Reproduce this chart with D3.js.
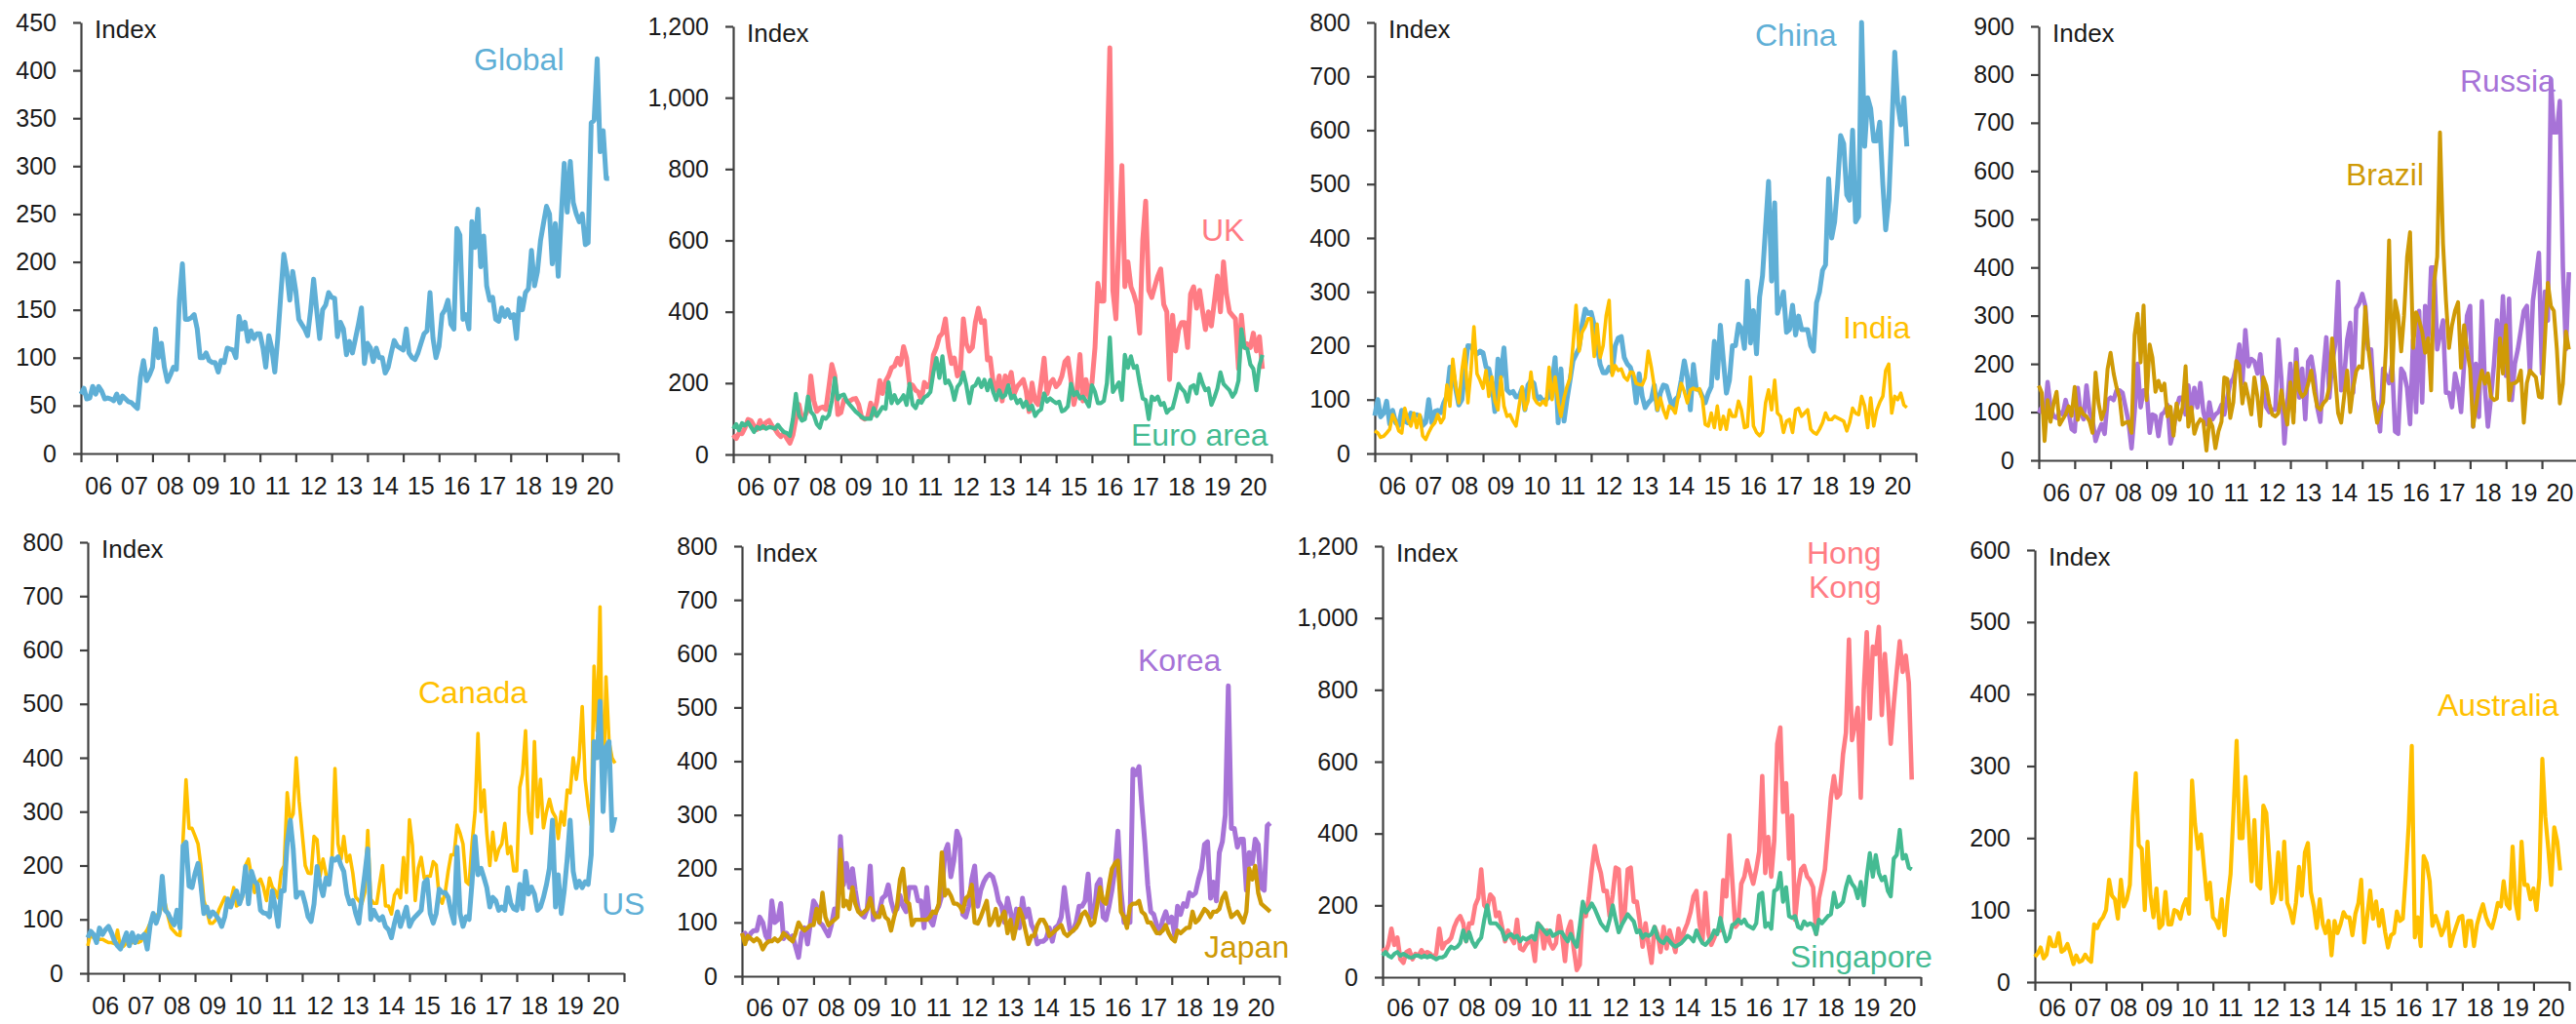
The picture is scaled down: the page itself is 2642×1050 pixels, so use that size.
<!DOCTYPE html>
<html>
<head>
<meta charset="utf-8">
<script src="https://cdn.jsdelivr.net/npm/d3@7"></script>
<style>
  body { margin: 0; background: #ffffff; }
</style>
</head>
<body>
<script>
// Monthly index values, Jan 2006 - Oct 2020 (178 points each)
const yearLabels = ["06","07","08","09","10","11","12","13","14","15","16","17","18","19","20"];

const global = [
  62,68,57,58,70,62,70,65,57,58,57,55,
  62,53,60,57,54,53,50,47,80,97,76,82,
  90,130,100,115,90,75,82,90,88,160,198,140,
  140,142,145,130,100,100,105,97,95,95,85,97,
  95,110,109,108,100,143,130,137,117,128,120,125,
  125,110,90,123,110,85,120,165,208,190,160,190,
  170,140,135,130,123,150,182,150,120,150,155,168,
  163,162,122,137,130,103,117,105,120,135,152,94,
  115,110,96,110,100,100,84,90,105,118,112,110,
  108,130,105,100,98,105,115,125,128,168,120,100,
  112,145,150,160,135,130,235,228,140,145,130,242,
  215,255,195,227,175,160,163,140,138,152,143,150,
  142,145,120,162,150,168,172,212,175,190,222,240,
  258,250,198,240,185,248,303,252,305,262,250,242,
  250,218,220,345,348,412,315,337,287,287
];

const uk = [
  55,45,60,58,75,98,95,80,70,95,75,90,
  95,80,72,58,50,60,45,32,55,100,140,100,
  108,126,220,150,121,130,133,126,189,252,220,112,
  117,153,150,150,155,157,140,104,99,105,144,112,
  148,207,171,205,220,243,248,270,252,302,270,198,
  194,180,175,153,202,190,200,279,300,330,340,380,
  300,255,270,220,230,380,310,290,300,370,410,370,
  375,265,270,200,180,220,150,220,200,230,170,190,
  200,210,180,120,200,150,140,200,270,170,200,210,
  190,200,220,260,270,210,140,180,280,150,210,160,
  200,300,480,430,430,800,1140,460,380,600,810,470,
  540,470,450,420,340,600,710,460,440,470,500,520,
  420,400,210,390,290,350,370,370,300,450,470,410,
  460,400,350,400,360,430,500,400,540,450,400,390,
  380,240,390,300,310,300,340,290,330,240
];

const euroArea = [
  72,85,68,88,81,90,77,63,77,72,79,72,
  77,75,72,83,72,63,60,52,100,170,110,95,
  99,162,120,110,85,75,105,100,110,150,214,155,
  165,168,150,140,130,120,113,105,100,100,100,130,
  108,121,133,128,202,144,166,144,153,166,139,198,
  140,130,150,145,160,165,175,230,270,215,275,200,
  207,189,153,189,200,230,194,144,189,194,212,189,
  209,180,209,175,153,180,160,166,194,157,165,144,
  153,133,148,126,137,108,120,126,171,148,157,150,
  144,148,121,125,135,198,166,175,157,162,150,135,
  194,175,144,144,150,200,328,175,189,202,153,279,
  243,275,243,248,200,157,153,99,162,153,162,139,
  144,117,126,130,162,198,185,175,148,189,194,171,
  225,198,180,185,139,160,185,230,198,189,180,162,
  175,207,351,300,295,252,240,180,250,279
];

const china = [
  70,100,68,75,97,55,80,57,52,80,60,57,
  75,70,72,69,52,58,100,57,78,80,76,94,
  106,160,154,118,90,100,154,200,199,190,185,190,
  187,160,157,130,78,175,142,196,118,112,115,105,
  106,121,81,127,135,130,100,105,97,100,105,130,
  178,57,157,60,100,136,172,184,196,238,268,260,
  262,238,200,165,150,150,160,150,200,214,217,178,
  166,160,142,94,148,106,85,94,100,127,81,112,
  127,125,106,85,100,106,136,172,142,81,165,120,
  118,105,94,112,124,208,140,238,172,112,136,200,
  200,240,232,195,320,205,265,185,290,330,420,505,
  320,465,260,280,300,225,230,275,220,255,230,230,
  230,200,190,280,300,340,350,510,400,430,500,590,
  575,480,470,600,430,440,800,570,660,640,580,580,
  615,500,415,470,600,745,650,610,660,570
];

const india = [
  42,38,30,32,38,45,72,60,42,38,84,63,
  51,75,48,72,33,26,39,50,57,72,57,66,
  127,88,175,124,94,154,193,94,154,235,148,136,
  121,154,106,142,97,81,142,88,69,72,60,51,
  88,124,81,97,151,103,94,90,97,90,160,100,
  142,94,69,103,124,140,200,275,190,225,235,250,
  250,180,240,178,200,256,284,145,163,154,157,142,
  136,151,150,130,128,127,140,190,160,124,81,103,
  81,66,88,84,75,106,130,115,94,118,121,118,
  120,100,54,51,75,48,88,45,69,45,81,69,
  69,97,81,48,50,142,51,39,33,40,94,118,
  81,136,75,69,39,60,63,39,81,84,69,75,
  81,45,39,36,45,57,75,63,63,69,66,63,
  60,42,57,84,75,72,106,88,48,103,51,80,
  95,106,154,166,75,106,100,112,90,85
];

const russia = [
  98,110,90,162,110,91,88,100,95,125,100,65,
  60,150,100,85,155,100,85,40,60,75,55,125,
  130,125,145,145,140,110,80,25,100,200,110,145,
  145,57,95,92,50,95,100,115,35,60,110,130,
  130,95,155,100,150,110,160,100,75,120,85,95,
  100,115,95,130,160,170,195,240,160,270,195,210,
  205,180,220,145,110,100,105,105,250,170,35,120,
  200,100,230,130,190,85,205,215,175,110,80,180,
  255,130,200,240,370,145,170,250,285,140,315,325,
  345,320,230,230,125,110,60,190,175,160,200,60,
  55,190,180,150,75,250,100,310,120,320,250,400,
  400,230,260,290,140,140,110,180,150,100,200,300,
  320,70,200,90,330,150,70,130,200,290,210,340,
  175,335,125,200,230,270,310,320,180,330,380,430,
  180,350,290,790,680,680,745,400,230,390
];

const brazil = [
  155,140,40,125,80,118,142,74,85,95,112,92,
  152,84,108,95,91,81,57,182,118,85,105,189,
  223,180,152,130,74,78,80,57,260,304,203,321,
  125,240,213,142,165,145,159,91,111,51,118,84,
  110,195,70,110,55,75,85,80,20,85,70,25,
  60,80,172,169,88,120,206,196,118,159,130,95,
  172,132,71,172,155,118,95,91,98,145,105,74,
  162,78,203,145,132,139,159,186,142,111,105,118,
  125,152,253,172,98,78,132,186,100,150,185,195,
  192,318,236,186,118,78,100,120,240,456,165,331,
  300,226,300,422,473,233,307,290,267,223,253,145,
  370,422,680,450,331,233,280,310,328,192,280,230,
  190,70,110,155,186,159,180,132,125,128,253,180,
  280,125,159,160,165,186,78,160,186,179,172,132,
  130,253,368,320,310,230,118,159,267,230
];

const canada = [
  51,75,66,63,63,63,60,57,57,55,80,48,
  50,57,54,57,63,57,60,72,81,93,100,108,
  110,125,130,105,84,78,72,70,249,359,269,269,
  255,240,200,135,117,93,93,99,117,129,141,130,
  135,159,125,129,141,200,212,180,150,168,175,160,
  135,177,160,153,140,189,200,335,284,296,400,320,
  260,200,186,185,254,248,180,212,183,165,215,380,
  240,212,254,207,219,186,141,135,129,150,265,138,
  130,130,165,200,125,125,110,145,155,140,215,150,
  285,237,135,195,215,177,180,180,207,201,141,130,
  150,190,220,220,275,260,240,170,165,240,300,445,
  300,340,260,200,262,210,230,240,278,222,235,190,
  190,345,370,450,300,260,430,290,360,270,300,323,
  300,290,250,300,275,340,335,400,360,400,495,360,
  310,275,570,450,680,300,550,430,400,390
];

const us = [
  66,78,72,57,84,72,81,87,75,60,51,45,
  60,75,51,75,57,69,66,72,45,90,111,93,
  111,180,117,111,99,90,117,84,237,243,162,159,
  185,204,165,111,123,105,114,108,100,87,105,138,
  123,141,153,129,147,198,129,189,171,165,117,112,
  111,105,153,123,87,153,153,243,284,231,141,150,
  150,129,105,96,129,198,165,144,177,165,213,210,
  216,200,189,147,129,135,111,93,141,183,231,100,
  117,105,99,105,87,81,66,93,114,87,105,123,
  87,99,105,111,117,168,174,111,93,111,156,150,
  150,141,114,93,234,111,87,105,100,168,254,183,
  195,177,159,123,141,135,117,123,117,159,130,120,
  117,165,120,189,147,160,147,117,123,141,165,195,
  284,123,183,111,153,213,284,189,159,171,159,170,
  165,220,430,400,505,300,420,430,265,290
];

const korea = [
  75,80,70,80,85,85,110,100,75,65,140,100,
  105,135,70,80,70,75,55,35,80,90,60,100,
  140,130,100,95,85,75,95,125,125,260,170,210,
  165,200,160,125,115,110,125,205,105,115,120,145,
  150,170,140,120,125,150,130,120,165,165,165,140,
  140,90,165,105,95,120,130,150,230,245,185,215,
  270,255,115,110,130,180,205,130,160,175,185,190,
  185,165,140,130,100,145,120,90,125,90,145,110,
  125,95,85,60,65,65,70,90,65,90,95,110,
  165,120,85,85,100,130,130,140,190,110,115,170,
  180,110,105,130,160,200,270,160,100,110,100,385,
  375,390,320,250,170,120,115,95,80,105,120,100,
  110,75,130,115,135,130,155,150,155,180,200,245,
  250,145,175,140,230,250,300,540,275,275,240,255,
  255,160,230,210,255,245,165,160,280,285
];

const japan = [
  80,60,75,70,65,70,65,50,60,65,65,70,
  65,70,80,75,70,65,80,100,90,85,90,95,
  95,125,100,155,110,95,100,105,110,235,130,140,
  125,165,135,120,115,120,125,145,120,110,110,130,
  110,105,85,110,130,180,200,140,135,95,105,105,
  105,105,105,110,120,118,135,230,150,160,150,135,
  135,130,120,145,150,170,100,98,110,125,140,95,
  105,125,95,110,120,80,105,70,95,125,110,85,
  60,75,75,95,105,105,95,75,80,85,90,95,
  80,75,80,85,90,100,115,120,110,95,100,130,
  165,140,135,170,200,210,215,120,110,90,130,135,
  135,140,120,115,100,100,90,80,80,85,95,80,
  70,65,85,80,85,90,90,120,100,105,115,125,
  120,110,120,120,125,145,155,130,110,115,120,110,
  100,120,200,180,205,155,135,130,125,120
];

const hongKong = [
  80,70,90,135,90,110,50,40,70,75,50,65,
  60,75,65,70,65,55,65,135,80,95,100,110,
  140,160,170,150,100,150,150,200,220,300,200,190,
  230,220,170,180,140,100,130,110,95,160,80,75,
  90,100,100,45,150,140,80,130,95,80,95,170,
  120,45,130,155,80,20,35,200,170,220,300,365,
  320,290,240,240,170,230,305,300,150,180,300,305,
  210,210,160,85,150,90,40,140,120,70,140,80,
  130,100,70,135,100,130,150,180,225,240,150,100,
  235,120,90,110,130,130,270,225,395,270,140,150,
  260,280,325,290,260,300,350,560,290,390,280,380,
  650,695,460,540,330,450,160,250,300,310,280,270,
  250,120,220,260,300,400,500,560,500,510,620,680,
  940,660,700,750,500,800,960,720,920,900,975,730,
  900,780,650,760,850,935,850,895,820,550
];

const singapore = [
  60,70,60,55,65,70,60,65,60,55,55,60,
  60,55,60,55,60,55,50,55,55,60,75,85,
  80,85,95,130,100,125,100,85,100,110,160,200,
  150,150,150,140,130,105,115,120,110,115,100,110,
  105,110,115,105,150,140,130,120,130,115,120,125,
  125,110,100,120,100,85,140,210,180,190,205,190,
  170,150,140,130,160,200,160,125,145,160,175,165,
  155,125,130,110,120,115,120,140,110,100,95,110,
  100,90,85,90,95,105,115,110,100,130,110,95,
  90,100,110,130,120,165,130,100,110,145,150,160,
  150,160,145,140,135,150,230,235,140,150,135,240,
  245,290,210,250,170,165,170,140,135,155,145,150,
  145,120,160,150,160,170,175,235,195,200,210,250,
  280,260,250,220,265,200,280,345,280,340,290,270,
  280,240,225,330,340,410,330,340,305,300
];

const australia = [
  35,40,48,33,38,62,50,50,68,42,45,53,
  40,25,37,28,30,38,32,28,80,75,85,90,
  100,142,120,115,88,142,105,115,135,230,290,190,
  185,100,195,120,90,130,75,80,125,80,80,100,
  98,88,105,115,95,280,220,185,205,160,115,138,
  90,85,75,115,65,115,150,240,335,200,200,285,
  220,140,225,135,130,245,235,170,110,125,180,115,
  195,110,100,82,110,160,120,180,193,125,105,75,
  115,80,68,85,37,85,68,80,97,90,90,65,
  95,110,142,55,90,127,88,112,78,100,70,48,
  65,68,98,85,88,150,220,328,62,90,50,175,
  165,140,78,92,80,65,75,97,50,65,78,90,
  92,50,85,85,50,80,95,108,90,80,75,90,
  110,105,140,108,102,188,110,88,195,135,135,115,
  130,100,145,310,230,185,135,215,195,155
];

// Colours
const BLUE = "#5fafd6";
const PINK = "#ff7c84";
const GREEN = "#44bb92";
const YELLOW = "#ffc000";
const PURPLE = "#a773d7";
const GOLD = "#cf9a06";
const AXIS = "#404040";
const TEXT = "#1a1a1a";
const FONT = "'Liberation Sans', Arial, sans-serif";

// Panel layout (plot area in pixels) and what goes in each panel
const panels = [
  { left: 83, right: 634, top: 23, bottom: 465, max: 450, step: 50,
    series: [{ values: global, color: BLUE, width: 5 }],
    labels: [{ text: "Global", x: 486, y: 72, color: BLUE }] },
  { left: 752, right: 1304, top: 27, bottom: 466, max: 1200, step: 200,
    series: [{ values: uk, color: PINK, width: 5 }, { values: euroArea, color: GREEN, width: 4.2 }],
    labels: [{ text: "UK", x: 1232, y: 247, color: PINK }, { text: "Euro area", x: 1160, y: 457, color: GREEN }] },
  { left: 1410, right: 1965, top: 23, bottom: 465, max: 800, step: 100,
    series: [{ values: china, color: BLUE, width: 5 }, { values: india, color: YELLOW, width: 3.6 }],
    labels: [{ text: "China", x: 1800, y: 47, color: BLUE }, { text: "India", x: 1890, y: 347, color: YELLOW }] },
  { left: 2091, right: 2644, top: 27, bottom: 472, max: 900, step: 100,
    series: [{ values: russia, color: PURPLE, width: 4.6 }, { values: brazil, color: GOLD, width: 4 }],
    labels: [{ text: "Russia", x: 2523, y: 94, color: PURPLE }, { text: "Brazil", x: 2406, y: 190, color: GOLD }] },
  { left: 90, right: 640, top: 556, bottom: 998, max: 800, step: 100,
    series: [{ values: canada, color: YELLOW, width: 3.6 }, { values: us, color: BLUE, width: 5 }],
    labels: [{ text: "Canada", x: 429, y: 721, color: YELLOW }, { text: "US", x: 617, y: 938, color: BLUE }] },
  { left: 761, right: 1312, top: 560, bottom: 1001, max: 800, step: 100,
    series: [{ values: korea, color: PURPLE, width: 5 }, { values: japan, color: GOLD, width: 4.4 }],
    labels: [{ text: "Korea", x: 1167, y: 688, color: PURPLE }, { text: "Japan", x: 1235, y: 982, color: GOLD }] },
  { left: 1418, right: 1970, top: 560, bottom: 1002, max: 1200, step: 200,
    series: [{ values: hongKong, color: PINK, width: 4.6 }, { values: singapore, color: GREEN, width: 4.2 }],
    labels: [{ text: "Hong", x: 1853, y: 578, color: PINK }, { text: "Kong", x: 1855, y: 613, color: PINK },
             { text: "Singapore", x: 1836, y: 992, color: GREEN }] },
  { left: 2087, right: 2635, top: 564, bottom: 1007, max: 600, step: 100,
    series: [{ values: australia, color: YELLOW, width: 4.2 }],
    labels: [{ text: "Australia", x: 2500, y: 734, color: YELLOW }] }
];

const svg = d3.select("body").append("svg")
    .attr("width", 2642)
    .attr("height", 1050)
    .style("background-color", "#ffffff");

const start = new Date(2006, 0, 1);
const end = new Date(2021, 0, 1);

panels.forEach(p => {
    const g = svg.append("g");

    const x = d3.scaleTime().domain([start, end]).range([p.left, p.right]);
    const y = d3.scaleLinear().domain([0, p.max]).range([p.bottom, p.top]);

    // y axis
    g.append("g")
        .attr("transform", `translate(${p.left},0)`)
        .call(d3.axisLeft(y)
            .tickValues(d3.range(0, p.max + 1, p.step))
            .tickSize(8)
            .tickSizeOuter(0)
            .tickPadding(17)
            .tickFormat(d3.format(",")))
        .call(a => a.selectAll("text")
            .attr("font-family", FONT)
            .attr("font-size", 25)
            .attr("fill", TEXT))
        .call(a => a.selectAll("line, path")
            .attr("stroke", AXIS)
            .attr("stroke-width", 2.2));

    // x axis: year ticks, labels centred in each year
    g.append("g")
        .attr("transform", `translate(0,${p.bottom})`)
        .call(d3.axisBottom(x)
            .ticks(d3.timeYear.every(1))
            .tickSize(9)
            .tickSizeOuter(0)
            .tickFormat(""))
        .call(a => a.selectAll("line, path")
            .attr("stroke", AXIS)
            .attr("stroke-width", 2.2));

    // keep the bottom row of year labels inside the page
    const labelY = Math.min(p.bottom + 42, 1042);

    g.append("g").selectAll("text")
        .data(yearLabels)
        .join("text")
        .attr("x", (d, i) => x(new Date(2006 + i, 6, 1)))
        .attr("y", labelY)
        .attr("text-anchor", "middle")
        .attr("font-family", FONT)
        .attr("font-size", 25)
        .attr("fill", TEXT)
        .text(d => d);

    g.append("text")
        .attr("x", p.left + 14)
        .attr("y", p.top + 16)
        .attr("font-family", FONT)
        .attr("font-size", 26)
        .attr("fill", TEXT)
        .text("Index");

    // lines
    const line = d3.line()
        .x((d, i) => x(d3.timeMonth.offset(start, i)))
        .y(d => y(d));

    p.series.forEach(s => {
        g.append("path")
            .datum(s.values)
            .attr("fill", "none")
            .attr("stroke", s.color)
            .attr("stroke-width", s.width)
            .attr("stroke-linejoin", "round")
            .attr("d", line);
    });

    // series names
    g.selectAll(".name")
        .data(p.labels)
        .join("text")
        .attr("class", "name")
        .attr("x", d => d.x)
        .attr("y", d => d.y)
        .attr("font-family", FONT)
        .attr("font-size", 32)
        .attr("fill", d => d.color)
        .text(d => d.text);
});
</script>
</body>
</html>
